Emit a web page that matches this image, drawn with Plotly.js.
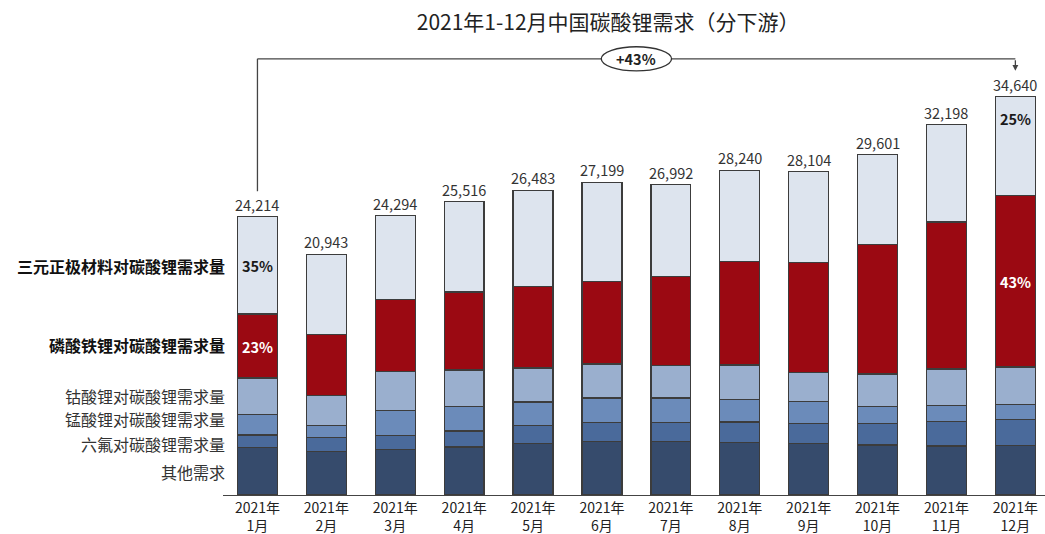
<!DOCTYPE html>
<html>
<head>
<meta charset="utf-8">
<script src="https://cdn.plot.ly/plotly-3.0.1.min.js"></script>
<style>html,body{margin:0;padding:0;background:#fff;}#chart{width:1045px;height:534px;}</style>
</head>
<body>
<div id="chart"></div>
<script>
// Data (吨)
const months = ['2021年<br>1月','2021年<br>2月','2021年<br>3月','2021年<br>4月','2021年<br>5月','2021年<br>6月','2021年<br>7月','2021年<br>8月','2021年<br>9月','2021年<br>10月','2021年<br>11月','2021年<br>12月'];
const totals = [24214, 20943, 24294, 25516, 26483, 27199, 26992, 28240, 28104, 29601, 32198, 34640];
const other  = [4150, 3800, 3940, 4175, 4495, 4670, 4670, 4585, 4465, 4350, 4265, 4320];
const lipf6  = [1070, 1220, 1220, 1390, 1530, 1655, 1655, 1770, 1775, 1890, 2115, 2260];
const lmo    = [1770, 1010, 2175, 2115, 2060, 2115, 2115, 1975, 1880, 1445, 1390, 1305];
const lco    = [3180, 2610, 3390, 3190, 2960, 2960, 2845, 2985, 2525, 2845, 3190, 3250];
const lfp    = [5569, 5310, 6265, 6785, 7075, 7160, 7745, 9020, 9570, 11225, 12790, 14895];
const ncm    = [8475, 6993, 7304, 7861, 8363, 8639, 7962, 7905, 7889, 7846, 8448, 8610];
const seriesNames = ['其他需求','六氟对碳酸锂需求量','锰酸锂对碳酸锂需求量','钴酸锂对碳酸锂需求量','磷酸铁锂对碳酸锂需求量','三元正极材料对碳酸锂需求量'];
const pctLabels = {first: {ncm: '35%', lfp: '23%'}, last: {ncm: '25%', lfp: '43%'}};

const colors = ['#364b6c','#4a6a9b','#6b8bba','#9aafce','#9b0912','#dde4ee'];
const FONT = '"Noto Sans CJK SC", "Noto Sans", sans-serif';
const seriesVals = [other, lipf6, lmo, lco, lfp, ncm];

const traces = seriesVals.map((vals, i) => ({
  type: 'bar',
  x: months,
  y: vals,
  name: seriesNames[i],
  marker: {color: colors[i], line: {color: '#3c3c3c', width: 1.3}},
  hoverinfo: 'x+y+name'
}));

const annotations = [];
// Totals on top
months.forEach((m, i) => {
  annotations.push({
    x: i, y: totals[i], xref: 'x', yref: 'y', text: totals[i].toLocaleString('en-US'),
    showarrow: false, yanchor: 'bottom', yshift: 0,
    font: {family: FONT, size: 14.5, color: '#333'}
  });
});
// Percent labels in first/last bars
function base(idx, upto) { let s = 0; for (let k = 0; k < upto; k++) s += seriesVals[k][idx]; return s; }
const n = months.length - 1;
[[0, pctLabels.first], [n, pctLabels.last]].forEach(([idx, lab]) => {
  annotations.push({x: idx, y: base(idx, 4) + lfp[idx] / 2, xref: 'x', yref: 'y', text: '<b>' + lab.lfp + '</b>',
    showarrow: false, font: {family: FONT, size: 14.5, color: '#ffffff'}});
});
annotations.push({x: 0, y: base(0, 5) + ncm[0] / 2, xref: 'x', yref: 'y', text: '<b>' + pctLabels.first.ncm + '</b>',
  showarrow: false, font: {family: FONT, size: 14.5, color: '#1a1a1a'}});
annotations.push({x: n, y: base(n, 5) + ncm[n] * 0.78, xref: 'x', yref: 'y', text: '<b>' + pctLabels.last.ncm + '</b>',
  showarrow: false, font: {family: FONT, size: 14.5, color: '#1a1a1a'}});

// Series labels on the left
const labelY = [2000, 4440, 6610, 8610, 13050, 19920];
seriesNames.forEach((nm, i) => {
  const bold = i >= 4;
  annotations.push({
    x: 0, xref: 'paper', y: labelY[i], yref: 'y', xanchor: 'right', xshift: 4,
    text: bold ? '<b>' + nm + '</b>' : nm, showarrow: false,
    font: {family: FONT, size: 16, color: bold ? '#111' : '#333'}
  });
});

// Growth bracket
const growth = Math.round((totals[n] / totals[0] - 1) * 100);
const yBr = 37930;
annotations.push({
  x: n, y: totals[n] + 2250, xref: 'x', yref: 'y',
  ax: n, ay: yBr, axref: 'x', ayref: 'y',
  showarrow: true, arrowhead: 2, arrowsize: 0.9, arrowwidth: 1.3, arrowcolor: '#444', text: ''
});
annotations.push({
  x: n / 2, y: yBr, xref: 'x', yref: 'y', text: '<b>+' + growth + '%</b>', showarrow: false,
  font: {family: FONT, size: 14.5, color: '#222'}
});

const shapes = [
  {type: 'line', xref: 'x', yref: 'y', x0: 0, x1: 0, y0: totals[0] + 2200, y1: yBr, line: {color: '#444', width: 1.3}},
  {type: 'line', xref: 'x', yref: 'y', x0: 0, x1: n, y0: yBr, y1: yBr, line: {color: '#444', width: 1.3}},
  {type: 'circle', xref: 'x', yref: 'y', x0: n / 2 - 0.51, x1: n / 2 + 0.51, y0: yBr - 1050, y1: yBr + 1050,
   fillcolor: '#ffffff', line: {color: '#333', width: 1.3}}
];

const layout = {
  width: 1045, height: 534,
  margin: {l: 223, r: 0, t: 35, b: 39},
  barmode: 'stack', bargap: 0.42,
  showlegend: false,
  paper_bgcolor: '#fff', plot_bgcolor: '#fff',
  title: {text: '2021年1-12月中国碳酸锂需求（分下游）', x: 0.582, xanchor: 'center', y: 0.958, yanchor: 'middle',
          font: {family: FONT, size: 21, color: '#222'}},
  xaxis: {type: 'category', range: [-0.5, 11.43], showline: true, linecolor: '#444', linewidth: 1.3,
          ticks: '', tickfont: {family: FONT, size: 14, color: '#222'}, showgrid: false, zeroline: false, fixedrange: true},
  yaxis: {range: [0, 40000], visible: false, showgrid: false, zeroline: false, fixedrange: true},
  annotations: annotations,
  shapes: shapes,
  font: {family: FONT}
};

Plotly.newPlot('chart', traces, layout, {displayModeBar: false, staticPlot: true});
</script>
</body>
</html>
